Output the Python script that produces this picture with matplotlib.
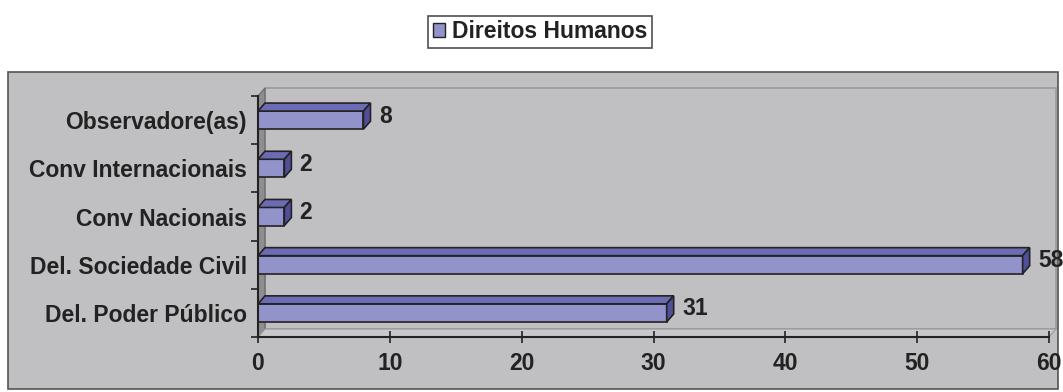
import matplotlib.pyplot as plt
from matplotlib.patches import Rectangle, Polygon
import numpy as np

categorias = ["Del. Poder Público", "Del. Sociedade Civil", "Conv Nacionais",
              "Conv Internacionais", "Observadore(as)"]
valores = [31, 58, 2, 2, 8]
serie = "Direitos Humanos"

plt.rcParams['font.family'] = ['Liberation Sans', 'DejaVu Sans']
plt.rcParams['font.weight'] = 'bold'
fs = 16.5

W, H = 1063, 392
fig = plt.figure(figsize=(W / 100, H / 100), dpi=100)

# outer gray chart area
fig.patches.append(Rectangle((8 / W, 3 / H), 1050 / W, 317 / H, transform=fig.transFigure,
                             facecolor='#c0c0c2', edgecolor='#555555', lw=1.2, zorder=-5))

x0, x1, y0, y1 = 258, 1049, 337, 96
ax = fig.add_axes([x0 / W, (H - y0) / H, (x1 - x0) / W, (y0 - y1) / H])
ax.set_facecolor('none')
ax.set_xlim(0, 60)
ax.set_ylim(-0.5, 4.5)

# depth offset in data units
ddx = 7 * 60 / (x1 - x0)
ddy = 8 * 5 / (y0 - y1)
h = 0.375

# back wall, side wall, floor
ax.add_patch(Rectangle((ddx, -0.5 + ddy), 60, 5, facecolor='#c0c0c2', edgecolor='#9a9a9a',
                       lw=1.2, clip_on=False, zorder=0))
ax.add_patch(Polygon([(0, -0.5), (0, 4.5), (ddx, 4.5 + ddy), (ddx, -0.5 + ddy)], closed=True,
                     facecolor='#8e8e90', edgecolor='#666666', lw=0.8, clip_on=False, zorder=0.5))
ax.add_patch(Polygon([(0, -0.5), (60, -0.5), (60 + ddx, -0.5 + ddy), (ddx, -0.5 + ddy)], closed=True,
                     facecolor='#c8c8ca', edgecolor='#9a9a9a', lw=0.8, clip_on=False, zorder=0.5))

ypos = np.arange(len(categorias))
ax.barh(ypos, valores, height=h, color='#9393cb', edgecolor='#222222', lw=1.2, zorder=3)
for y, v in zip(ypos, valores):
    top = [(0, y + h / 2), (v, y + h / 2), (v + ddx, y + h / 2 + ddy), (ddx, y + h / 2 + ddy)]
    side = [(v, y - h / 2), (v, y + h / 2), (v + ddx, y + h / 2 + ddy), (v + ddx, y - h / 2 + ddy)]
    ax.add_patch(Polygon(top, closed=True, facecolor='#6c6cb4', edgecolor='#222222', lw=1.2,
                         zorder=3, clip_on=False))
    ax.add_patch(Polygon(side, closed=True, facecolor='#50509a', edgecolor='#222222', lw=1.2,
                         zorder=3, clip_on=False))
    ax.annotate(str(v), (v + ddx, y + ddy / 2), xytext=(6, 0), textcoords='offset points',
                va='center', ha='left', fontsize=fs, fontweight='bold', color='#222222')

for s in ['top', 'right']:
    ax.spines[s].set_visible(False)
for s in ['left', 'bottom']:
    ax.spines[s].set_color('#222222')
    ax.spines[s].set_linewidth(1.5)
    ax.spines[s].set_zorder(4)

ax.set_xticks(range(0, 61, 10))
ax.tick_params(axis='x', direction='inout', length=8, width=1.2, color='#222222',
               labelsize=fs, labelcolor='#222222', pad=7)
ax.set_yticks(ypos)
ax.set_yticklabels(categorias)
ax.tick_params(axis='y', length=0, labelsize=fs, labelcolor='#222222', pad=8)
ax.set_yticks(np.arange(-0.5, 4.6, 1), minor=True)
ax.tick_params(axis='y', which='minor', direction='out', length=5, width=1.2, color='#222222')

# legend box
leg_h = fig.legend([Rectangle((0, 0), 1, 1, facecolor='#9393cb', edgecolor='#222222')], [serie],
                   loc='center', bbox_to_anchor=(540 / W, (H - 32) / H), fontsize=fs,
                   frameon=True, fancybox=False, handlelength=0.55, handleheight=0.55,
                   handletextpad=0.3, borderpad=0.2, borderaxespad=0)
leg_h.get_frame().set_edgecolor('#222222')
leg_h.get_frame().set_linewidth(1.2)
for t in leg_h.get_texts():
    t.set_fontweight('bold')
    t.set_color('#222222')

fig.savefig('out.png', dpi=100, facecolor='white')
